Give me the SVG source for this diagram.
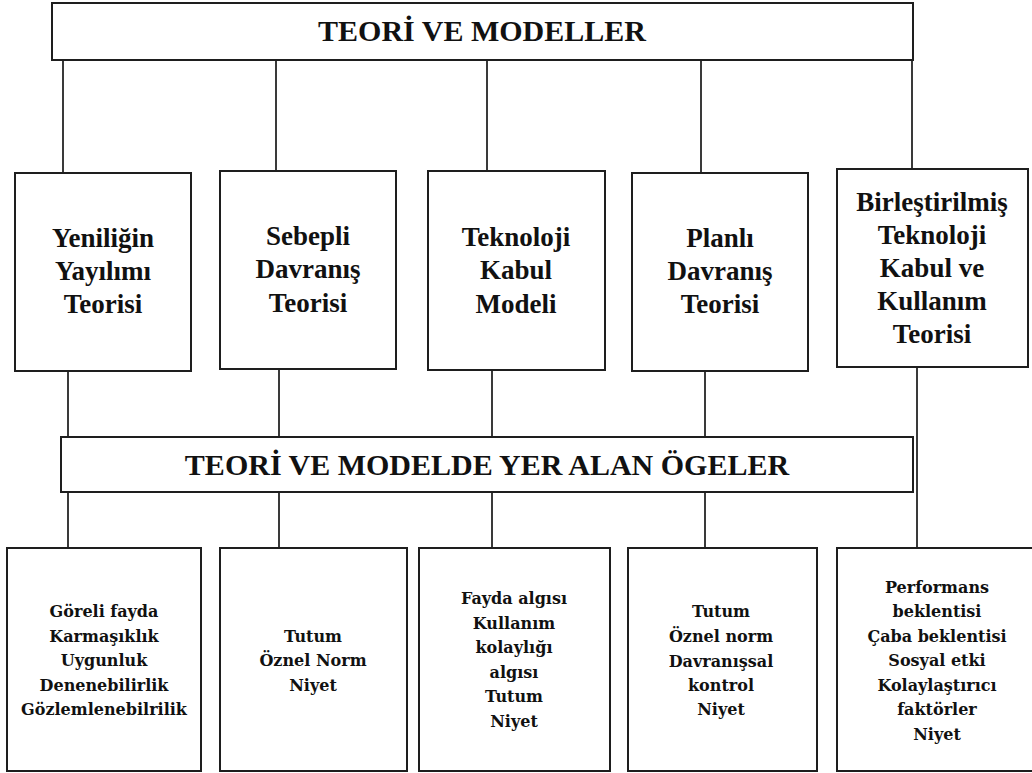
<svg xmlns="http://www.w3.org/2000/svg" width="1032" height="773" viewBox="0 0 1032 773">
  <style>
    .box { fill: #ffffff; stroke: #1e1e1e; stroke-width: 2; }
    .link { stroke: #3a3a3a; stroke-width: 2; fill: none; }
    .head { font-family: "Liberation Serif", "Times New Roman", serif; font-weight: bold; font-size: 30px; fill: #111; text-anchor: middle; }
    .theory { font-family: "Liberation Serif", "Times New Roman", serif; font-weight: bold; font-size: 27px; fill: #111; text-anchor: middle; }
    .item { font-family: "DejaVu Serif", "Liberation Serif", serif; font-weight: bold; font-size: 16px; fill: #111; text-anchor: middle; }
  </style>
  <rect width="1032" height="773" fill="#ffffff"/>

  <!-- connectors -->
  <g id="connectors">
    <line class="link" x1="63" y1="60" x2="63" y2="173"/>
    <line class="link" x1="276" y1="60" x2="276" y2="171"/>
    <line class="link" x1="487" y1="60" x2="487" y2="171"/>
    <line class="link" x1="701" y1="60" x2="701" y2="173"/>
    <line class="link" x1="912" y1="60" x2="912" y2="169"/>

    <line class="link" x1="68" y1="371" x2="68" y2="548"/>
    <line class="link" x1="279" y1="369" x2="279" y2="548"/>
    <line class="link" x1="492" y1="370" x2="492" y2="548"/>
    <line class="link" x1="705" y1="371" x2="705" y2="548"/>
    <line class="link" x1="917" y1="367" x2="917" y2="548"/>
  </g>

  <!-- header: theories and models -->
  <g id="header-top">
    <rect class="box" x="52" y="3" width="861" height="57"/>
    <text class="head" x="482" y="41">TEORİ VE MODELLER</text>
  </g>

  <!-- theory boxes -->
  <g id="theory-diffusion">
    <rect class="box" x="15" y="173" width="176" height="198"/>
    <text class="theory" x="103"><tspan x="103" y="247">Yeniliğin</tspan><tspan x="103" y="280">Yayılımı</tspan><tspan x="103" y="313">Teorisi</tspan></text>
  </g>
  <g id="theory-reasoned-action">
    <rect class="box" x="220" y="171" width="176" height="198"/>
    <text class="theory"><tspan x="308" y="245">Sebepli</tspan><tspan x="308" y="278">Davranış</tspan><tspan x="308" y="312">Teorisi</tspan></text>
  </g>
  <g id="theory-tam">
    <rect class="box" x="428" y="171" width="177" height="199"/>
    <text class="theory"><tspan x="516" y="246">Teknoloji</tspan><tspan x="516" y="279">Kabul</tspan><tspan x="516" y="313">Modeli</tspan></text>
  </g>
  <g id="theory-planned-behavior">
    <rect class="box" x="632" y="173" width="176" height="198"/>
    <text class="theory"><tspan x="720" y="247">Planlı</tspan><tspan x="720" y="280">Davranış</tspan><tspan x="720" y="313">Teorisi</tspan></text>
  </g>
  <g id="theory-utaut">
    <rect class="box" x="837" y="169" width="191" height="198"/>
    <text class="theory"><tspan x="932" y="211">Birleştirilmiş</tspan><tspan x="932" y="244">Teknoloji</tspan><tspan x="932" y="277">Kabul ve</tspan><tspan x="932" y="310">Kullanım</tspan><tspan x="932" y="343">Teorisi</tspan></text>
  </g>

  <!-- header: elements -->
  <g id="header-elements">
    <rect class="box" x="61" y="437" width="852" height="55"/>
    <text class="head" x="487" y="475">TEORİ VE MODELDE YER ALAN ÖGELER</text>
  </g>

  <!-- element boxes -->
  <g id="elements-diffusion">
    <rect class="box" x="7" y="548" width="194" height="223"/>
    <text class="item"><tspan x="104" y="617">Göreli fayda</tspan><tspan x="104" y="641.5">Karmaşıklık</tspan><tspan x="104" y="666">Uygunluk</tspan><tspan x="104" y="690.5">Denenebilirlik</tspan><tspan x="104" y="715">Gözlemlenebilrilik</tspan></text>
  </g>
  <g id="elements-reasoned-action">
    <rect class="box" x="220" y="548" width="187" height="223"/>
    <text class="item"><tspan x="313" y="642">Tutum</tspan><tspan x="313" y="666">Öznel Norm</tspan><tspan x="313" y="691">Niyet</tspan></text>
  </g>
  <g id="elements-tam">
    <rect class="box" x="419" y="548" width="191" height="223"/>
    <text class="item"><tspan x="514" y="604">Fayda algısı</tspan><tspan x="514" y="629">Kullanım</tspan><tspan x="514" y="653">kolaylığı</tspan><tspan x="514" y="678">algısı</tspan><tspan x="514" y="702">Tutum</tspan><tspan x="514" y="727">Niyet</tspan></text>
  </g>
  <g id="elements-planned-behavior">
    <rect class="box" x="628" y="548" width="189" height="223"/>
    <text class="item"><tspan x="721" y="617">Tutum</tspan><tspan x="721" y="642">Öznel norm</tspan><tspan x="721" y="667">Davranışsal</tspan><tspan x="721" y="691">kontrol</tspan><tspan x="721" y="715">Niyet</tspan></text>
  </g>
  <g id="elements-utaut">
    <rect class="box" x="837" y="548" width="196" height="223"/>
    <text class="item"><tspan x="937" y="593">Performans</tspan><tspan x="937" y="617">beklentisi</tspan><tspan x="937" y="642">Çaba beklentisi</tspan><tspan x="937" y="666">Sosyal etki</tspan><tspan x="937" y="691">Kolaylaştırıcı</tspan><tspan x="937" y="715">faktörler</tspan><tspan x="937" y="740">Niyet</tspan></text>
  </g>
</svg>
